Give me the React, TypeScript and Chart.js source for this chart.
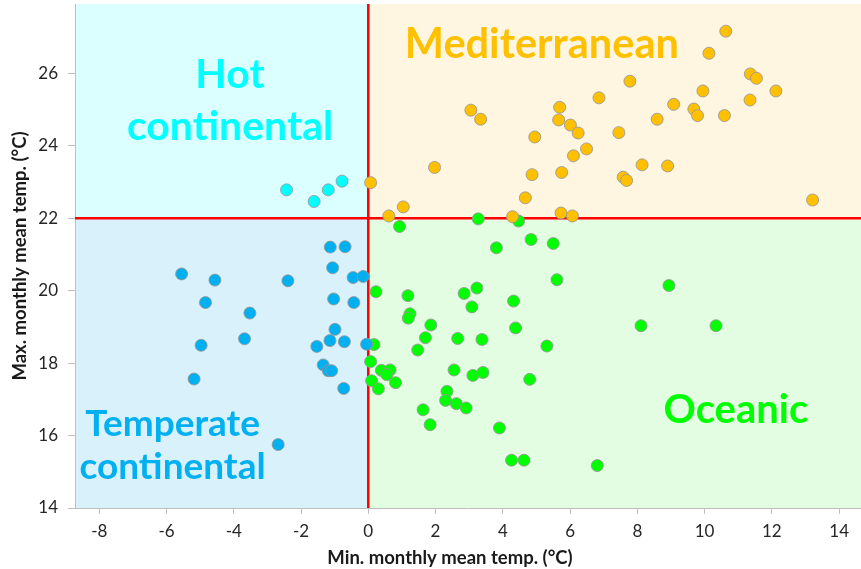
import React, { useEffect, useRef } from "react";
import { Chart, registerables } from "chart.js";

Chart.register(...registerables);

// [min monthly mean temp, max monthly mean temp] per city
const hotContinental: [number, number][] = [
  [-2.43, 22.78], [-1.61, 22.46], [-1.19, 22.78], [-0.78, 23.02],
];

const temperateContinental: [number, number][] = [
  [-1.13, 21.2], [-0.69, 21.21], [-1.06, 20.63], [-0.45, 20.36], [-0.15, 20.39],
  [-5.55, 20.46], [-4.56, 20.29], [-2.39, 20.27], [-4.84, 19.67], [-1.03, 19.77],
  [-0.43, 19.67], [-3.52, 19.38], [-0.99, 18.93], [-3.68, 18.67], [-4.97, 18.49],
  [-1.14, 18.62], [-0.71, 18.59], [-1.53, 18.46], [-0.05, 18.52], [-1.34, 17.95],
  [-1.19, 17.79], [-1.09, 17.79], [-5.18, 17.56], [-0.73, 17.3], [-2.68, 15.75],
];

const mediterranean: [number, number][] = [
  [0.07, 22.98], [0.61, 22.06], [1.04, 22.31], [1.97, 23.4], [3.05, 24.98],
  [3.34, 24.73], [5.69, 25.06], [6.86, 25.32], [5.66, 24.71], [6.01, 24.57],
  [6.24, 24.35], [4.95, 24.24], [7.45, 24.36], [6.49, 23.91], [6.1, 23.72],
  [4.87, 23.2], [5.75, 23.26], [4.67, 22.56], [5.73, 22.14], [6.07, 22.06],
  [4.29, 22.04], [10.63, 27.16], [10.13, 26.55], [7.78, 25.78], [11.36, 25.98],
  [11.54, 25.86], [12.12, 25.51], [9.95, 25.51], [11.35, 25.26], [9.08, 25.14],
  [9.68, 25.01], [9.79, 24.83], [10.59, 24.83], [8.59, 24.73], [8.14, 23.47],
  [8.9, 23.44], [7.58, 23.13], [7.68, 23.04], [13.21, 22.5],
];

const oceanic: [number, number][] = [
  [3.27, 21.98], [4.47, 21.92], [0.93, 21.77], [4.84, 21.41], [5.5, 21.3],
  [3.81, 21.18], [5.61, 20.3], [0.23, 19.97], [1.18, 19.86], [2.85, 19.92],
  [3.23, 20.07], [3.08, 19.55], [4.32, 19.71], [1.24, 19.36], [1.19, 19.24],
  [1.86, 19.05], [4.38, 18.97], [1.7, 18.7], [2.66, 18.68], [3.38, 18.65],
  [5.31, 18.47], [1.47, 18.36], [0.17, 18.51], [0.07, 18.04], [0.39, 17.8],
  [0.65, 17.81], [0.55, 17.68], [2.55, 17.81], [3.11, 17.66], [3.41, 17.74],
  [4.8, 17.55], [0.1, 17.51], [0.81, 17.46], [0.3, 17.29], [2.34, 17.22],
  [2.3, 16.97], [2.62, 16.88], [2.91, 16.76], [1.63, 16.71], [1.84, 16.3],
  [3.9, 16.21], [4.26, 15.32], [4.63, 15.32], [8.94, 20.14], [8.11, 19.03],
  [10.34, 19.03], [6.81, 15.17],
];

const xTicks = [-8, -6, -4, -2, 0, 2, 4, 6, 8, 10, 12, 14];
const yTicks = [14, 16, 18, 20, 22, 24, 26];

const xSplit = 0;
const ySplit = 22;

const xTitle = "Min. monthly mean temp. (°C)";
const yTitle = "Max. monthly mean temp. (°C)";

// zone labels: text lines, anchor (data coords), colour, font size, line gap
const zoneLabels = [
  { lines: ["Hot", "continental"], x: -4.11, y: 25.95, color: "#00ffff", size: 41, gap: 52 },
  { lines: ["Mediterranean"], x: 5.16, y: 26.78, color: "#ffc000", size: 41.5, gap: 0 },
  { lines: ["Temperate", "continental"], x: -5.82, y: 16.32, color: "#00b0f0", size: 37, gap: 43 },
  { lines: ["Oceanic"], x: 10.93, y: 16.71, color: "#00ff00", size: 40, gap: 0 },
];

const FONT = "Lato, 'Open Sans', sans-serif";

const toPts = (arr: [number, number][]) => arr.map(([x, y]) => ({ x, y }));

export default function App() {
  const ref = useRef<HTMLCanvasElement | null>(null);

  useEffect(() => {
    document.body.style.margin = "0";
    const canvas = ref.current;
    if (!canvas) return;

    const quadrantPlugin = {
      id: "quadrants",
      beforeDraw(chart: any) {
        const { ctx, chartArea: a, scales } = chart;
        const xs = scales.x.getPixelForValue(xSplit);
        const ys = scales.y.getPixelForValue(ySplit);
        ctx.save();
        ctx.fillStyle = "#dbffff";
        ctx.fillRect(a.left, a.top, xs - a.left, ys - a.top);
        ctx.fillStyle = "#fff6e1";
        ctx.fillRect(xs, a.top, a.right - xs, ys - a.top);
        ctx.fillStyle = "#d9f1fb";
        ctx.fillRect(a.left, ys, xs - a.left, a.bottom - ys);
        ctx.fillStyle = "#e3fde3";
        ctx.fillRect(xs, ys, a.right - xs, a.bottom - ys);
        ctx.restore();
      },
      beforeDatasetsDraw(chart: any) {
        const { ctx, chartArea: a, scales } = chart;
        const xs = scales.x.getPixelForValue(xSplit);
        const ys = scales.y.getPixelForValue(ySplit);
        ctx.save();
        ctx.textAlign = "center";
        ctx.textBaseline = "middle";
        zoneLabels.forEach((l) => {
          const cx = scales.x.getPixelForValue(l.x);
          const cy = scales.y.getPixelForValue(l.y);
          ctx.font = `bold ${l.size}px ${FONT}`;
          ctx.fillStyle = l.color;
          l.lines.forEach((t, i) => ctx.fillText(t, cx, cy + i * l.gap));
        });
        ctx.strokeStyle = "#ff0000";
        ctx.lineWidth = 2.5;
        ctx.beginPath();
        ctx.moveTo(xs, a.top);
        ctx.lineTo(xs, a.bottom);
        ctx.moveTo(a.left, ys);
        ctx.lineTo(a.right, ys);
        ctx.stroke();
        ctx.restore();
      },
      afterDraw(chart: any) {
        const { ctx } = chart;
        ctx.save();
        ctx.fillStyle = "#1a1a1a";
        ctx.font = `bold 18.5px ${FONT}`;
        ctx.textAlign = "center";
        ctx.textBaseline = "middle";
        ctx.fillText(xTitle, 450, 558);
        ctx.translate(20, 256);
        ctx.rotate(-Math.PI / 2);
        ctx.fillText(yTitle, 0, 0);
        ctx.restore();
      },
    };

    const ds = (label: string, data: [number, number][], color: string) => ({
      label,
      data: toPts(data),
      backgroundColor: color,
      borderColor: "rgba(150,150,150,0.85)",
      borderWidth: 1,
      pointRadius: 6,
      pointHoverRadius: 6,
    });

    const chart = new Chart(canvas, {
      type: "scatter",
      data: {
        datasets: [
          ds("Hot continental", hotContinental, "#00ffff"),
          ds("Temperate continental", temperateContinental, "#00b0f0"),
          ds("Mediterranean", mediterranean, "#ffc000"),
          ds("Oceanic", oceanic, "#00ff00"),
        ],
      },
      options: {
        animation: false,
        responsive: false,
        events: [],
        layout: { autoPadding: false, padding: { top: 4, right: 0, left: 0, bottom: 0 } },
        plugins: {
          legend: { display: false },
          tooltip: { enabled: false },
        },
        scales: {
          x: {
            type: "linear",
            min: -8.72,
            max: 14.65,
            afterFit: (s: any) => {
              s.height = 61;
              s.paddingLeft = 0;
              s.paddingRight = 0;
            },
            afterBuildTicks: (s: any) => {
              s.ticks = xTicks.map((v) => ({ value: v }));
            },
            ticks: {
              includeBounds: false,
              font: { family: FONT, size: 17 },
              color: "#262626",
              padding: 7,
              maxRotation: 0,
            },
            grid: {
              drawOnChartArea: false,
              drawTicks: true,
              tickLength: 6,
              color: "#bfbfbf",
            },
            border: { display: true, color: "#bfbfbf", width: 1 },
          },
          y: {
            type: "linear",
            min: 14,
            max: 27.91,
            afterFit: (s: any) => {
              s.width = 75;
              s.paddingTop = 0;
              s.paddingBottom = 0;
            },
            afterBuildTicks: (s: any) => {
              s.ticks = yTicks.map((v) => ({ value: v }));
            },
            ticks: {
              includeBounds: false,
              font: { family: FONT, size: 17 },
              color: "#262626",
              padding: 10,
            },
            grid: {
              drawOnChartArea: false,
              drawTicks: true,
              tickLength: 7,
              color: "#bfbfbf",
            },
            border: { display: true, color: "#bfbfbf", width: 1 },
          },
        },
      },
      plugins: [quadrantPlugin],
    });

    return () => chart.destroy();
  }, []);

  return (
    <div style={{ width: 861, height: 569 }}>
      <canvas ref={ref} width={861} height={569} style={{ display: "block" }} />
    </div>
  );
}
